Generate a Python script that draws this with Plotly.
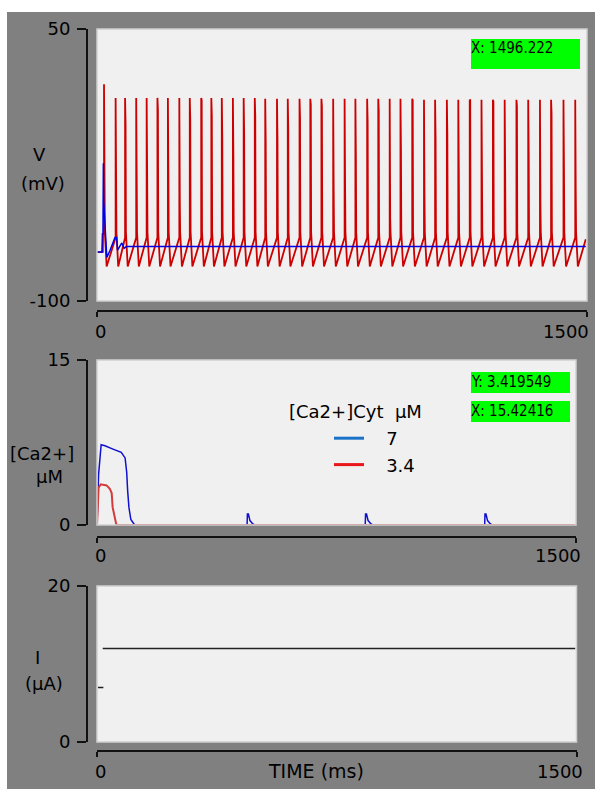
import plotly.graph_objects as go

W, H = 595, 789

# ---------------- data ----------------
# Panel 1: membrane potential V (mV)
spike_t = [21.5, 57, 86, 120, 152, 185, 217, 252, 284, 319, 350, 382, 416, 449, 483,
           515, 551, 584, 620, 653, 687, 723, 758, 791, 827, 861, 896, 929, 965, 1001,
           1035, 1071, 1106, 1141, 1177, 1212, 1248, 1284, 1320, 1356, 1390, 1428, 1464]
spike_peak = [19.5, 12, 12, 12, 12, 12, 12, 12, 12, 12, 12, 12, 12, 12, 12,
              11.5, 11.5, 11.5, 11.5, 11.5, 11.5, 11.5, 11.5, 11.5, 11.5, 11.5, 11.5, 11.5, 11.5, 11,
              11, 11, 11, 11, 11, 11, 11, 11, 11, 11, 11, 11, 11]
spike_shoulder = [-24, -19.5, -3, -30, -28.5, 5.5, -30.5, -46, 0, 10.8, 2, -10, -19, -7.5, 2,
                  -13, -11, -5.5, 1, 8.4, 7.5, -38.8, -37, -20.5, -1, 5.3, -54.4, -16.8, 10.8, -41,
                  -10.3, -8.5, -26, 10.8, -30.5, 10, -28.7, 7.5, -17.6, -47.8, 3.4, -26, -39.8]
v_start_t = [0, 15, 17]
v_start_v = [-73, -73, -63]
v_threshold = -65
v_post = -62
v_trough = -81
v_end_t, v_end_v = 1496.2, -66

v_blue_t = [0, 18, 19.5, 20.5, 30, 40, 55, 60, 63, 76, 83, 90, 1496.2]
v_blue_v = [-73, -73, -24, -45, -76, -72, -65, -65, -72, -68, -71, -70, -70]

# Panel 2: cytosolic Ca2+ (uM)
ca_blue_t = [0, 3, 5, 13, 25, 50, 76, 88, 93, 96, 100, 106, 114, 118,
             470, 471, 474, 479, 488, 494,
             840, 841, 844, 849, 858, 864,
             1214, 1215, 1218, 1223, 1232, 1238, 1496]
ca_blue_v = [0, 2.3, 4.6, 7.3, 7.2, 6.9, 6.6, 6.1, 4.8, 3.1, 1.6, 0.5, 0.1, 0,
             0, 1.0, 1.0, 0.4, 0.1, 0,
             0, 1.0, 1.0, 0.4, 0.1, 0,
             0, 1.0, 1.0, 0.4, 0.1, 0, 0]
ca_red_t = [0, 3, 5, 12, 30, 40, 46, 49, 55, 60, 63, 1496]
ca_red_v = [0, 2.0, 3.4, 3.7, 3.6, 3.3, 2.9, 1.6, 0.6, 0.1, 0, 0]
legend_names = ["7", "3.4"]
legend_title = "[Ca2+]Cyt\u00a0\u00a0µM"

# Panel 3: stimulus current I (uA)
i_pre_t = [3, 20]
i_pre_v = [7, 7]
i_t = [18, 1496]
i_v = [12, 12]

# readouts
readout_v = "X: 1496.222"
readout_ca = ["Y: 3.419549", "X: 15.42416"]

# axis settings
x_range = [0, 1500]
v_range = [-100, 50]
ca_range = [0, 15]
i_range = [0, 20]

# ---------------- build V trace ----------------
vx, vy = list(v_start_t), list(v_start_v)
for k, (t, p, s) in enumerate(zip(spike_t, spike_peak, spike_shoulder)):
    thr = v_start_v[-1] if k == 0 else v_threshold
    vx += [t, t, t + 1.5, t + 2.5, t + 8]
    vy += [thr, p, s, v_post, v_trough]
vx.append(v_end_t)
vy.append(v_end_v)

# ---------------- helpers ----------------
def fx(px):
    return px / W

def fy(py):
    return 1 - py / H

FONT = "DejaVu Sans"
NARROW = "DejaVu Sans Condensed, Liberation Sans Narrow, DejaVu Sans"

fig = go.Figure()

fig.add_trace(go.Scatter(x=vx, y=vy, mode="lines", line=dict(color="#CC0000", width=1.8),
                         xaxis="x", yaxis="y", showlegend=False, hoverinfo="skip"))
fig.add_trace(go.Scatter(x=v_blue_t, y=v_blue_v, mode="lines", line=dict(color="#0000E0", width=1.5),
                         xaxis="x", yaxis="y", showlegend=False, hoverinfo="skip"))

fig.add_trace(go.Scatter(x=ca_blue_t, y=ca_blue_v, mode="lines", line=dict(color="#1010D0", width=1.5),
                         xaxis="x2", yaxis="y2", showlegend=False, hoverinfo="skip"))
fig.add_trace(go.Scatter(x=ca_red_t, y=ca_red_v, mode="lines", line=dict(color="#D43A3A", width=2),
                         xaxis="x2", yaxis="y2", showlegend=False, hoverinfo="skip"))
# legend entries
fig.add_trace(go.Scatter(x=[None], y=[None], mode="lines", line=dict(color="#1A72C8", width=3),
                         name="\u00a0\u00a0\u00a0" + legend_names[0], xaxis="x2", yaxis="y2"))
fig.add_trace(go.Scatter(x=[None], y=[None], mode="lines", line=dict(color="#E8161A", width=3),
                         name="\u00a0\u00a0\u00a0" + legend_names[1], xaxis="x2", yaxis="y2"))

fig.add_trace(go.Scatter(x=i_pre_t, y=i_pre_v, mode="lines", line=dict(color="#222222", width=1.5),
                         xaxis="x3", yaxis="y3", showlegend=False, hoverinfo="skip"))
fig.add_trace(go.Scatter(x=i_t, y=i_v, mode="lines", line=dict(color="#222222", width=1.5),
                         xaxis="x3", yaxis="y3", showlegend=False, hoverinfo="skip"))

panels = [
    # (x0, x1, ytop, ybottom, xaxis_line_y, yrange)
    (97, 587, 29, 301, 311, v_range),
    (97, 576, 360, 525, 537, ca_range),
    (97, 576.5, 586, 742, 751, i_range),
]

axis_common = dict(showgrid=False, zeroline=False, showline=True, linecolor="#111111",
                   linewidth=2, ticks="outside", tickcolor="#111111", tickwidth=2,
                   fixedrange=True, automargin=False)
layout_axes = {}
for i, (x0, x1, yt, yb, xl, yr) in enumerate(panels):
    sfx = "" if i == 0 else str(i + 1)
    layout_axes["xaxis" + sfx] = dict(axis_common, domain=[fx(x0), fx(x1)], range=x_range,
                                      anchor="free", position=fy(xl), tickvals=x_range,
                                      ticklen=5, showticklabels=False)
    layout_axes["yaxis" + sfx] = dict(axis_common, domain=[fy(yb), fy(yt)], range=yr,
                                      anchor="free", position=fx(87), tickvals=yr,
                                      ticktext=[str(v) for v in yr], ticklen=9,
                                      tickfont=dict(family=FONT, size=18, color="#000000"),
                                      ticklabelstandoff=3)

annotations = []

def txt(text, x, y, size=18, xanchor="center", family=FONT):
    annotations.append(dict(text=text, x=fx(x), y=fy(y), xref="paper", yref="paper",
                            xanchor=xanchor, yanchor="middle", showarrow=False,
                            font=dict(family=family, size=size, color="#000000")))

# axis titles
txt("V", 39, 155)
txt("(mV)", 42.5, 183)
txt("[Ca2+]", 42, 454)
txt("µM", 49, 477)
txt("I", 37, 657)
txt("(µA)", 44, 683)
txt("TIME (ms)", 316, 771, size=19)

# x tick labels
for (x0, x1, yt, yb, xl, yr), ylab, shift in zip(panels, [331, 555, 771], [4, 7, 8]):
    txt(str(x_range[0]), x0 + 3, ylab)
    txt(str(x_range[1]), x1 + shift, ylab, xanchor="right")

# legend title
txt(legend_title, 287, 412, size=18, xanchor="left")

# green readouts
def box(text, x0, x1, y0, y1, valign="middle"):
    annotations.append(dict(text=text, x=fx(x0), y=fy(y0), xref="paper", yref="paper",
                            xanchor="left", yanchor="top", showarrow=False, align="left",
                            valign=valign, width=x1 - x0, height=y1 - y0, bgcolor="#00FF00",
                            borderpad=0, borderwidth=0,
                            font=dict(family=NARROW, size=15, color="#000000")))

box(readout_v, 470.7, 579.3, 39, 69, valign="top")
box(readout_ca[0], 470.7, 569.3, 371.7, 392.3)
box(readout_ca[1], 470.7, 569.3, 401, 421.7)

shapes = [
    dict(type="rect", xref="paper", yref="paper", x0=0, x1=fx(7), y0=0, y1=1,
         fillcolor="#FFFFFF", line=dict(width=0), layer="above"),
    dict(type="rect", xref="paper", yref="paper", x0=0, x1=1, y0=fy(12), y1=1,
         fillcolor="#FFFFFF", line=dict(width=0), layer="above"),
]
for i in range(3):
    sfx = "" if i == 0 else str(i + 1)
    shapes.append(dict(type="rect", xref="x" + sfx + " domain", yref="y" + sfx + " domain",
                       x0=0, x1=1, y0=0, y1=1, line=dict(color="#D0D0D0", width=1.5),
                       fillcolor="rgba(0,0,0,0)", layer="above"))

fig.update_layout(
    width=W, height=H, margin=dict(l=0, r=0, t=0, b=0, pad=0, autoexpand=False),
    paper_bgcolor="#808080", plot_bgcolor="#F0F0F0",
    showlegend=True,
    legend=dict(x=fx(329), y=fy(420), xanchor="left", yanchor="top",
                bgcolor="rgba(0,0,0,0)", borderwidth=0,
                font=dict(family=FONT, size=18, color="#000000"),
                tracegroupgap=0),
    annotations=annotations, shapes=shapes,
    **layout_axes,
)

fig.write_html("out.html")
